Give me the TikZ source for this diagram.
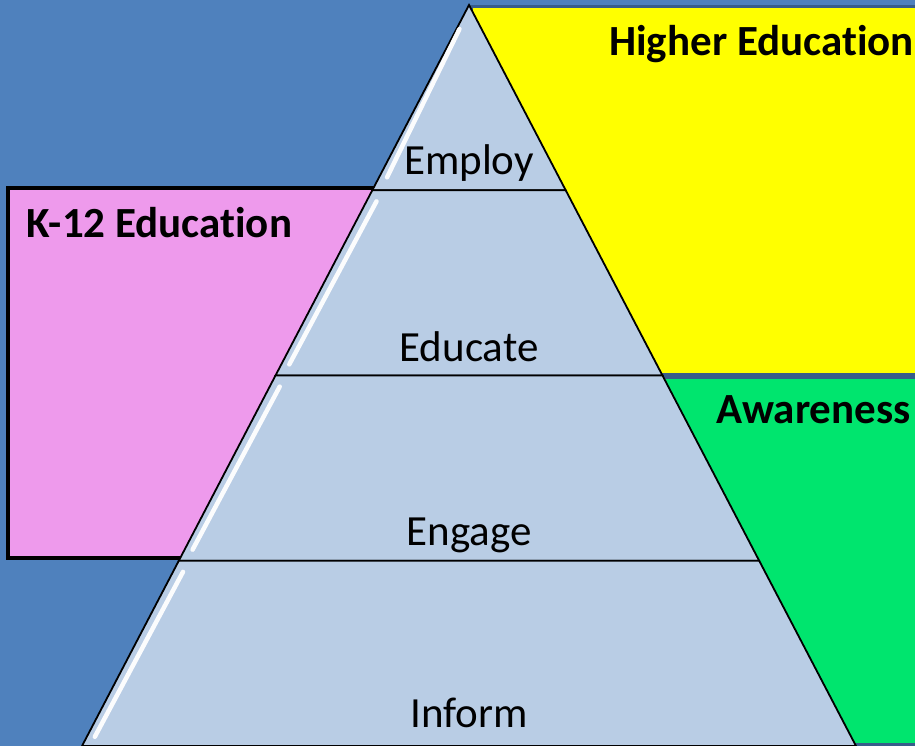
\documentclass[tikz,border=0pt]{standalone}
\usepackage{fontspec}
\setmainfont{Carlito}[Ligatures=NoCommon]
\usetikzlibrary{positioning,calc}

\definecolor{bgblue}{HTML}{4F81BD}
\definecolor{edgeblue}{HTML}{385D8A}
\definecolor{pyrblue}{HTML}{B9CDE5}
\definecolor{higheryellow}{HTML}{FFFF00}
\definecolor{awaregreen}{HTML}{00E56E}
\definecolor{k12pink}{HTML}{EE9AEC}

\begin{document}
\begin{tikzpicture}[x=1pt,y=-1pt,
        layer/.style={draw=black, line width=1.8pt, fill=pyrblue, line join=miter},
        shine/.style={draw=white, line width=4.5pt, line cap=round, opacity=0.95},
        layer label/.style={anchor=base, inner sep=0pt, font=\fontsize{43}{50}\selectfont},
        box label/.style={anchor=base west, inner sep=0pt, font=\bfseries\fontsize{43}{50}\selectfont}]

\useasboundingbox (0,0) rectangle (915,746);
\clip (0,0) rectangle (915,746);
\fill[bgblue] (0,0) rectangle (915,746);

% side boxes
\draw[fill=higheryellow, draw=edgeblue, line width=3pt] (471,7) rectangle (930,374.5);
\draw[fill=awaregreen, draw=edgeblue, line width=3pt] (640,377.5) rectangle (930,744.5);
\draw[fill=k12pink, draw=black, line width=4.5pt] (8,188) rectangle (400,558);

% pyramid corners
\coordinate (top) at (469,5);
\coordinate (l1) at (372.3,190.25);
\coordinate (r1) at (565.7,190.25);
\coordinate (l2) at (275.5,375.5);
\coordinate (r2) at (662.5,375.5);
\coordinate (l3) at (178.8,560.75);
\coordinate (r3) at (759.2,560.75);
\coordinate (l4) at (82,746);
\coordinate (r4) at (856,746);

\draw[layer] (top) -- (r1) -- (l1) -- cycle;
\draw[layer] (l1) -- (r1) -- (r2) -- (l2) -- cycle;
\draw[layer] (l2) -- (r2) -- (r3) -- (l3) -- cycle;
\draw[layer] (l3) -- (r3) -- (r4) -- (l4) -- cycle;

% glossy edges
\draw[shine] ($(top)!0.13!(l1)+(3,0)$) -- ($(top)!0.93!(l1)+(8,0)$);
\draw[shine] ($(l1)!0.06!(l2)+(10,0)$) -- ($(l1)!0.94!(l2)+(8,0)$);
\draw[shine] ($(l2)!0.06!(l3)+(10,0)$) -- ($(l2)!0.94!(l3)+(8,0)$);
\draw[shine] ($(l3)!0.06!(l4)+(10,0)$) -- ($(l3)!0.95!(l4)+(8,0)$);

% labels
\node[layer label] (employ) at (469,175) {Employ};
\node[layer label] (educate) at (469,361) {Educate};
\node[layer label] (engage) at (469,545) {Engage};
\node[layer label] (inform) at (469,727) {Inform};

\node[box label] (higher) at (609,56) {Higher Education};
\node[box label] (k12) at (26,237) {K-12 Education};
\node[box label] (aware) at (716,423) {Awareness};

\end{tikzpicture}
\end{document}
